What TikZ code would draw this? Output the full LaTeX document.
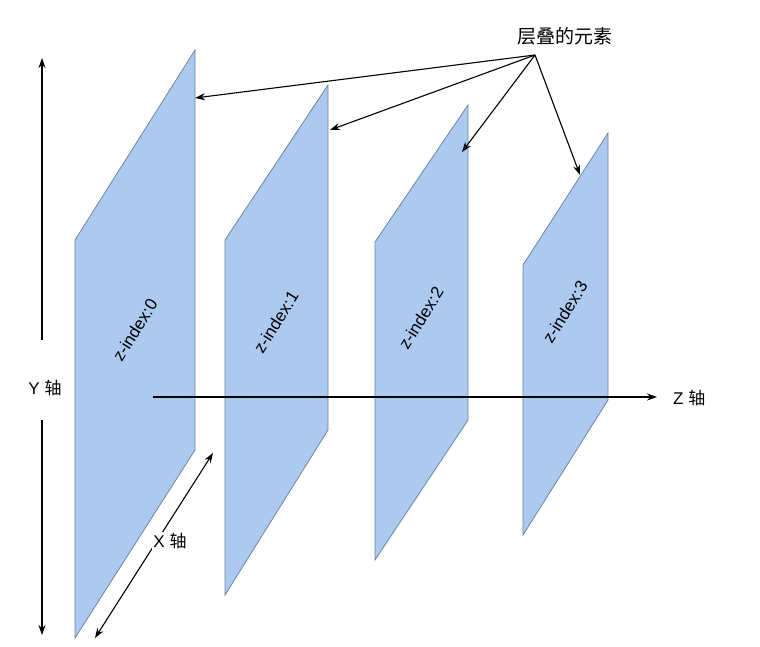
\documentclass[tikz,border=0pt]{standalone}
\usepackage{fontspec}
\usetikzlibrary{arrows.meta}
\setmainfont{Liberation Sans}
\newfontfamily\cjk{Noto Sans CJK SC}
\definecolor{pane}{RGB}{172,202,240}
\definecolor{paneedge}{RGB}{110,130,160}
\begin{document}
\begin{tikzpicture}[x=1pt,y=-1pt,
  panel/.style={fill=pane,draw=paneedge,line width=0.8pt},
  arr/.style={-{Stealth[length=10pt,width=7pt]},line width=1.1pt},
  lab/.style={font=\fontsize{17}{20}\selectfont,inner sep=1pt}]
\useasboundingbox (0,0) rectangle (760,647);
\draw[panel] (75,638) -- (75,240) -- (195,50) -- (195,450) -- cycle;
\draw[panel] (225,595) -- (225,240) -- (328,85) -- (328,430) -- cycle;
\draw[panel] (375,560) -- (375,242) -- (468,105) -- (468,420) -- cycle;
\draw[panel] (523,535) -- (523,265) -- (608,133) -- (608,400) -- cycle;
\node[lab,rotate=58] (t0) at (135,330) {z-index:0};
\node[lab,rotate=58] (t1) at (276,322) {z-index:1};
\node[lab,rotate=58] (t2) at (421,318) {z-index:2};
\node[lab,rotate=58] (t3) at (565,312) {z-index:3};
\coordinate (zs) at (153,397);
\node[lab,anchor=west] (zl) at (672,398) {Z {\cjk 轴}};
\draw[arr] (zs) -- (657,397);
\node[lab] (yl) at (45,388) {Y {\cjk 轴}};
\coordinate (yt) at (42,58); \coordinate (yb) at (42,635);
\draw[arr] (42,340) -- (yt);
\draw[arr] (42,420) -- (yb);
\coordinate (xa) at (213,453); \coordinate (xb) at (95,638);
\draw[line width=1.1pt,{Stealth[length=10pt,width=7pt]}-{Stealth[length=10pt,width=7pt]}] (xa) -- (xb);
\node[lab,fill=white] (xl) at (170,541) {X {\cjk 轴}};
\node[lab,font=\fontsize{19}{22}\selectfont] (top) at (565,36) {\cjk 层叠的元素};
\coordinate (src) at (535,55);
\coordinate (p0) at (195,98); \coordinate (p1) at (330,130);
\coordinate (p2) at (462,152); \coordinate (p3) at (580,175);
\foreach \p in {p0,p1,p2,p3} \draw[arr] (src) -- (\p);
\end{tikzpicture}
\end{document}
